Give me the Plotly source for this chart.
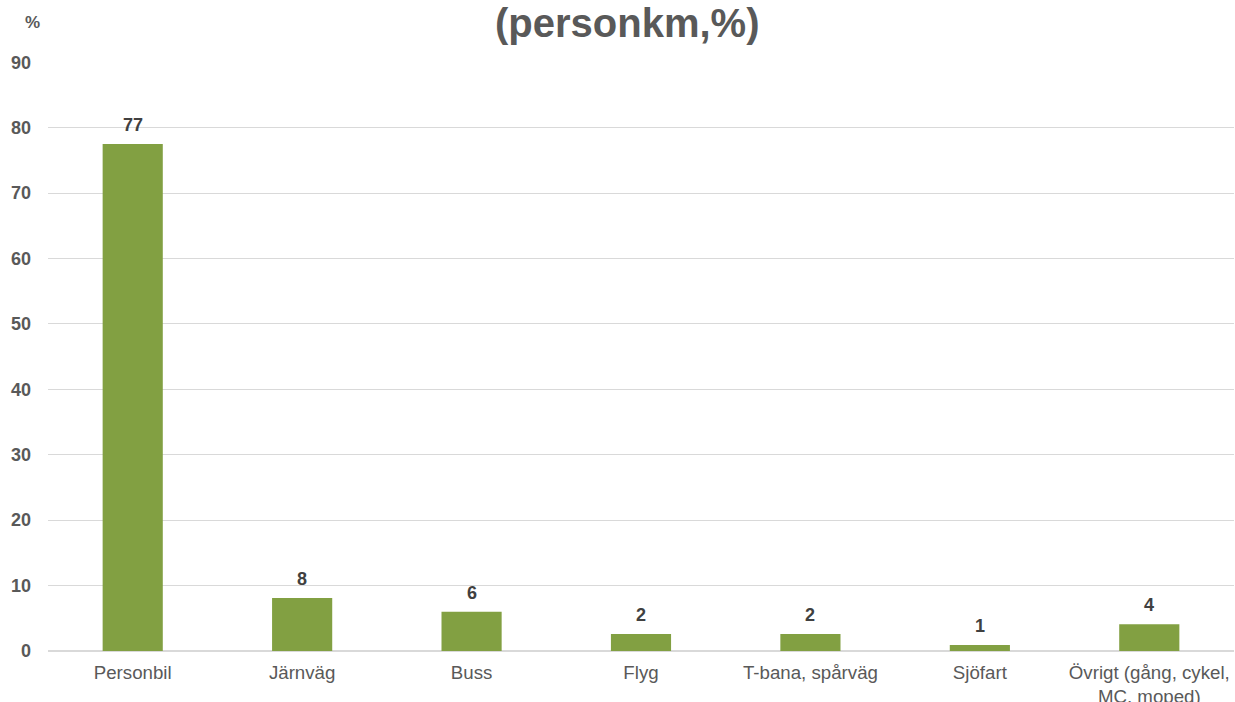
import plotly.graph_objects as go

categories = ["Personbil", "Järnväg", "Buss", "Flyg", "T-bana, spårväg", "Sjöfart",
              "Övrigt (gång, cykel,<br>MC, moped)"]
values = [77.5, 8.1, 6.0, 2.6, 2.6, 0.9, 4.1]
value_labels = ["77", "8", "6", "2", "2", "1", "4"]
y_ticks = [0, 10, 20, 30, 40, 50, 60, 70, 80, 90]

W, H = 1235, 702
ML, MR, MT, MB = 48, 1, 62, 51
plot_h = H - MT - MB
plot_w = W - ML - MR

fig = go.Figure(go.Bar(
    x=categories, y=values,
    marker=dict(color="#82A042", line=dict(width=0)), width=0.355,
    hoverinfo="x+y",
))

annotations = [
    dict(x=c, y=v, xref="x", yref="y", text=f"<b>{t}</b>", showarrow=False,
         yanchor="bottom", yshift=7,
         font=dict(family="Liberation Sans, Arial", size=18, color="#404040"))
    for c, v, t in zip(categories, values, value_labels)
]
annotations.append(dict(
    text="<b>(personkm,%)</b>", xref="paper", x=(627 - ML) / plot_w,
    yref="paper", y=1 + (MT - 23) / plot_h, yanchor="middle", xanchor="center",
    showarrow=False, font=dict(family="Liberation Sans, Arial", size=40, color="#595959")))
annotations.append(dict(
    text="<b>%</b>", xref="paper", x=(32 - ML) / plot_w,
    yref="paper", y=1 + (MT - 23) / plot_h, yanchor="middle", xanchor="center",
    showarrow=False, font=dict(family="Liberation Sans, Arial", size=17, color="#595959")))

fig.update_layout(
    width=W, height=H, paper_bgcolor="white", plot_bgcolor="white",
    margin=dict(l=ML, r=MR, t=MT, b=MB, autoexpand=False), showlegend=False,
    font=dict(family="Liberation Sans, Arial", color="#595959"),
    xaxis=dict(tickfont=dict(size=18.7, color="#595959"), showgrid=False,
               showline=False, ticks="", ticklabelstandoff=8, automargin=False),
    yaxis=dict(range=[0, 90.05], tickvals=y_ticks,
               ticktext=[f"<b>{t}</b>" for t in y_ticks],
               tickfont=dict(size=18, color="#595959"),
               gridcolor="#D9D9D9", gridwidth=1, zeroline=True,
               zerolinecolor="#D9D9D9", zerolinewidth=1.5,
               showline=False, ticks="", ticklabelstandoff=16, automargin=False),
    annotations=annotations,
)

fig.write_html("out.html", config={"displayModeBar": False},
               post_script="document.body.style.margin='0';")
